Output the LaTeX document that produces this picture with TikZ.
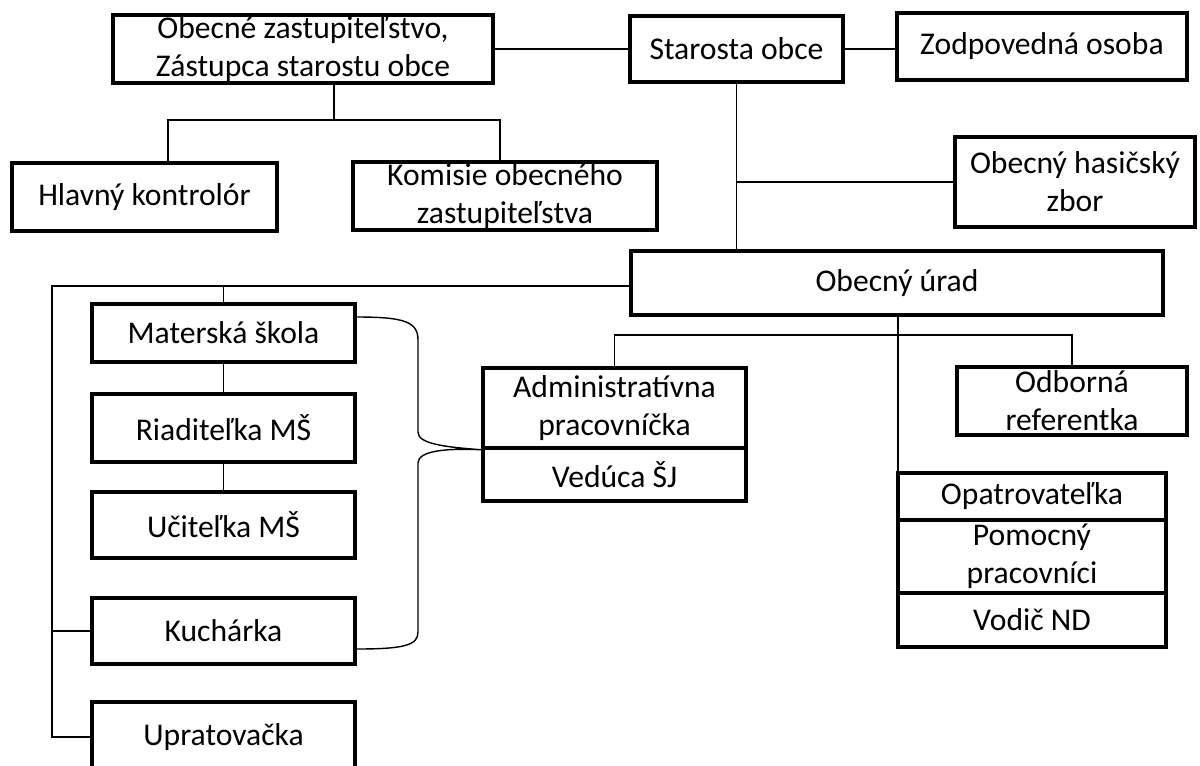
\documentclass[tikz,border=0pt]{standalone}
\usepackage{fontspec}
\setmainfont{Carlito}
\usetikzlibrary{calc}

\begin{document}
\begin{tikzpicture}[x=0.02cm, y=-0.02cm,
    box/.style={draw, line width=2pt, inner sep=0pt, align=center,
        font=\fontsize{18}{21.6}\selectfont},
    link/.style={line width=0.8pt}]
    \useasboundingbox (0,0) rectangle (1200,765);

    % Top row
    \node[box, minimum width=7.6cm, minimum height=1.36cm] (OZ) at (303,49) {Obecné zastupiteľstvo,\\Zástupca starostu obce};
    \node[box, minimum width=4.26cm, minimum height=1.32cm] (Starosta) at (736.5,49) {Starosta obce};
    \node[box, minimum width=5.8cm, minimum height=1.34cm] (Zodp) at (1042,46.5) {Zodpovedná osoba};

    % Under the council
    \node[box, minimum width=5.3cm, minimum height=1.36cm] (Hlavny) at (144.5,197) {Hlavný kontrolór};
    \node[box, minimum width=6.08cm, minimum height=1.36cm] (Komisie) at (505,196) {Komisie obecného\\zastupiteľstva};
    \node[box, minimum width=4.8cm, minimum height=1.8cm] (Hasic) at (1075,182) {Obecný hasičský\\zbor};

    % Office
    \node[box, minimum width=10.64cm, minimum height=1.28cm] (Urad) at (897,283) {Obecný úrad};

    % School column
    \node[box, minimum width=5.26cm, minimum height=1.16cm] (Materska) at (223.5,333) {Materská škola};
    \node[box, minimum width=5.26cm, minimum height=1.36cm] (Riaditelka) at (223.5,428) {Riaditeľka MŠ};
    \node[box, minimum width=5.26cm, minimum height=1.32cm] (Ucitelka) at (223.5,525) {Učiteľka MŠ};
    \node[box, minimum width=5.26cm, minimum height=1.32cm] (Kucharka) at (223.5,631) {Kuchárka};
    \node[box, minimum width=5.26cm, minimum height=1.4cm] (Upratovacka) at (223.5,737) {Upratovačka};

    % Staff of the office
    \node[box, minimum width=5.26cm, minimum height=1.6cm] (Admin) at (614.5,408) {Administratívna\\pracovníčka};
    \node[box, minimum width=5.26cm, minimum height=1.06cm] (Veduca) at (614.5,474.5) {Vedúca ŠJ};
    \node[box, minimum width=4.6cm, minimum height=1.36cm] (Odborna) at (1072,401) {Odborná\\referentka};
    \node[box, minimum width=5.36cm, minimum height=0.94cm] (Opatr) at (1032,496.5) {Opatrovateľka};
    \node[box, minimum width=5.36cm, minimum height=1.46cm] (Pomocny) at (1032,556.5) {Pomocný\\pracovníci};
    \node[box, minimum width=5.36cm, minimum height=1.08cm] (Vodic) at (1032,620) {Vodič ND};

    % Links of the top row
    \draw[link] (OZ.east) -- (Starosta.west);
    \draw[link] (Starosta.east) -- (Starosta.east -| Zodp.west);

    \coordinate (OZbus) at (334,120);
    \coordinate (HKdrop) at (168,120);
    \coordinate (KOdrop) at (500,120);
    \draw[link] (OZ.south -| OZbus) -- (OZbus);
    \draw[link] (Hlavny.north -| HKdrop) -- (HKdrop) -- (KOdrop) -- (Komisie.north -| KOdrop);

    \draw[link] (Starosta.south) -- (Starosta.south |- Urad.north);
    \draw[link] (Starosta.south |- Hasic.west) -- (Hasic.west);

    % Left bus
    \coordinate (Lbus) at (52,286);
    \draw[link] (Urad.west |- Lbus) -- (Lbus) -- (Lbus |- Upratovacka.west) -- (Upratovacka.west);
    \draw[link] (Materska.north) -- (Materska.north |- Lbus);
    \draw[link] (Kucharka.west) -- (Kucharka.west -| Lbus);
    \draw[link] (Materska.south) -- (Riaditelka.north);
    \draw[link] (Riaditelka.south) -- (Ucitelka.north);

    % Office staff
    \coordinate (Ubus) at (898,335);
    \draw[link] (Urad.south -| Ubus) -- (Ubus |- Opatr.north);
    \draw[link] (Admin.north) |- (Ubus) -| (Odborna.north);

    % Brace to the school canteen
    \draw[link] ($(Materska.east)+(0,-16)$) .. controls (405,317) and (418,322) .. (418,340)
        -- (418,432) .. controls (418,444) and (445,447) .. (Admin.south west)
        .. controls (445,448) and (418,451) .. (418,463)
        -- (418,632) .. controls (418,645) and (405,649) .. ($(Kucharka.east)+(0,18)$);
\end{tikzpicture}
\end{document}
